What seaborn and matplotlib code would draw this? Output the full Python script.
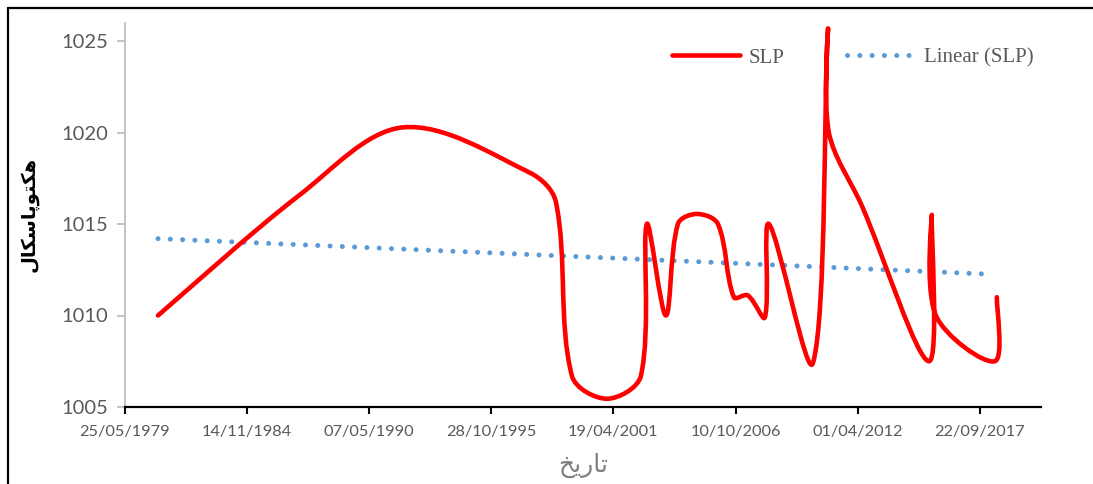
import numpy as np
import pandas as pd
import matplotlib
matplotlib.use("Agg")
import matplotlib.pyplot as plt
import matplotlib.dates as mdates
from matplotlib.path import Path
from matplotlib.patches import PathPatch
from matplotlib.lines import Line2D
import seaborn as sns

# ---- data (x values are Excel date serials) ----
slp_dates = [29545, 31869, 33555, 35634, 36059, 36321, 36894, 37450, 37548,
             37859, 38056, 38367, 38711, 38972, 39201, 39480, 39545, 40266,
             40511, 40527, 41067, 42164, 42213, 42279, 43244, 43277]
slp_values = [1010.0, 1016.6, 1020.28, 1017.8, 1016.2, 1006.7, 1005.45, 1006.7,
              1015.0, 1010.0, 1015.0, 1015.55, 1015.0, 1011.0, 1011.1, 1009.9,
              1015.0, 1007.4, 1025.5, 1020.0, 1016.0, 1007.5, 1015.5, 1010.0,
              1007.5, 1011.0]
trend_dates = [29545, 43211]
trend_values = [1014.2, 1012.25]
xtick_labels = ["25/05/1979", "14/11/1984", "07/05/1990", "28/10/1995",
                "19/04/2001", "10/10/2006", "01/04/2012", "22/09/2017"]
yticks = [1005, 1010, 1015, 1020, 1025]
x_range = [29000, 44000]
y_range = [1005, 1026]

# Arabic labels in presentation forms (visual order) since matplotlib does no shaping
ylabel_text = "\uFEDD\uFE8E\uFB91\uFEB3\uFE8E\uFB58\uFEEE\uFE98\uFB91\uFEEB"  # هکتوپاسکال
xlabel_text = "\uFEA6\uFBFE\uFEAD\uFE8E\uFE97"  # تاریخ

def serial_to_num(s):
    d = pd.to_datetime(np.asarray(s, dtype=float), unit="D", origin="1899-12-30")
    return mdates.date2num(d)

sns.set_theme(style="white")
plt.rcParams["font.family"] = ["Lato", "DejaVu Sans"]

fig = plt.figure(figsize=(10.93, 4.84), dpi=100)
ax = fig.add_axes([124.7 / 1093, 1 - 407 / 484, (1041 - 124.7) / 1093, (407 - 22.7) / 484])

trend_df = pd.DataFrame({
    "date": pd.to_datetime(np.asarray(trend_dates, float), unit="D", origin="1899-12-30"),
    "value": trend_values})
sns.lineplot(data=trend_df, x="date", y="value", ax=ax, color="#5B9BD5",
             linewidth=3.6, linestyle=(0, (0.01, 2.45)), zorder=2)
for l in ax.lines:
    l.set_dash_capstyle("round")

ax.set_xlim(serial_to_num(x_range))
ax.set_ylim(*y_range)

# smoothed line (chord-weighted Catmull-Rom Bezier, computed in screen space
# like Excel's smoothed scatter line)
xs = serial_to_num(slp_dates)
pts = ax.transData.transform(np.column_stack([xs, np.asarray(slp_values, float)]))
n = len(pts)
d = np.hypot(*np.diff(pts, axis=0).T)
verts = [pts[0]]
codes = [Path.MOVETO]
for i in range(n - 1):
    p1, p2 = pts[i], pts[i + 1]
    if i > 0:
        t1 = pts[i + 1] - pts[i - 1]
        a1 = t1 * d[i] / (d[i - 1] + d[i]) / 3
    else:
        a1 = (p2 - p1) / 6
    if i + 2 < n:
        t2 = pts[i + 2] - pts[i]
        a2 = t2 * d[i] / (d[i] + d[i + 1]) / 3
    else:
        a2 = (p2 - p1) / 6
    verts += [p1 + a1, p2 - a2, p2]
    codes += [Path.CURVE4] * 3
verts_data = ax.transData.inverted().transform(np.array(verts))
patch = PathPatch(Path(verts_data, codes), fill=False, edgecolor="#FF0000",
                  linewidth=3.3, capstyle="round", joinstyle="round",
                  transform=ax.transData, zorder=3)
ax.add_patch(patch)

tick_pos = mdates.date2num(pd.to_datetime(xtick_labels, dayfirst=True))
ax.set_xticks(tick_pos)
ax.set_xticklabels(xtick_labels)
ax.set_yticks(yticks)
ax.set_yticklabels([str(v) for v in yticks])

for s in ["top", "right"]:
    ax.spines[s].set_visible(False)
ax.spines["bottom"].set_color("black")
ax.spines["bottom"].set_linewidth(1.6)
ax.spines["left"].set_color("#BFBFBF")
ax.spines["left"].set_linewidth(1.3)
ax.tick_params(axis="x", direction="out", length=5, width=1.5, color="black",
               labelsize=11.8, labelcolor="#595959", pad=8, bottom=True)
ax.tick_params(axis="y", direction="out", length=6, width=1.3, color="#BFBFBF",
               labelsize=14.5, labelcolor="#595959", pad=6, left=True)
ax.grid(False)

ax.set_ylabel(ylabel_text, family=["DejaVu Sans"], fontweight="bold",
              fontsize=14, color="black")
ax.yaxis.set_label_coords(-0.094, 0.5)
ax.set_xlabel(xlabel_text, family=["DejaVu Sans"], fontsize=18, color="#808080")
ax.xaxis.set_label_coords(0.5, -0.118)

handles = [Line2D([], [], color="#FF0000", lw=3.3, solid_capstyle="round"),
           Line2D([], [], color="#5B9BD5", lw=3.6, linestyle=(0, (0.01, 2.45)),
                  dash_capstyle="round")]
leg = ax.legend(handles, ["SLP", "Linear (SLP)"], ncol=2, loc="upper right",
                bbox_to_anchor=(0.992, 0.934), frameon=False, borderaxespad=0,
                borderpad=0, handlelength=3.3, handletextpad=0.4,
                columnspacing=3.0, prop={"family": "Liberation Serif", "size": 15})
for t in leg.get_texts():
    t.set_color("#595959")

fig.add_artist(Line2D([7.5 / 1093, 7.5 / 1093], [0, 1 - 7.5 / 484],
                      transform=fig.transFigure, color="black", lw=1.6))
fig.add_artist(Line2D([7.5 / 1093, 1.0], [1 - 7.5 / 484, 1 - 7.5 / 484],
                      transform=fig.transFigure, color="black", lw=1.6))

fig.savefig("out.png", dpi=100)
